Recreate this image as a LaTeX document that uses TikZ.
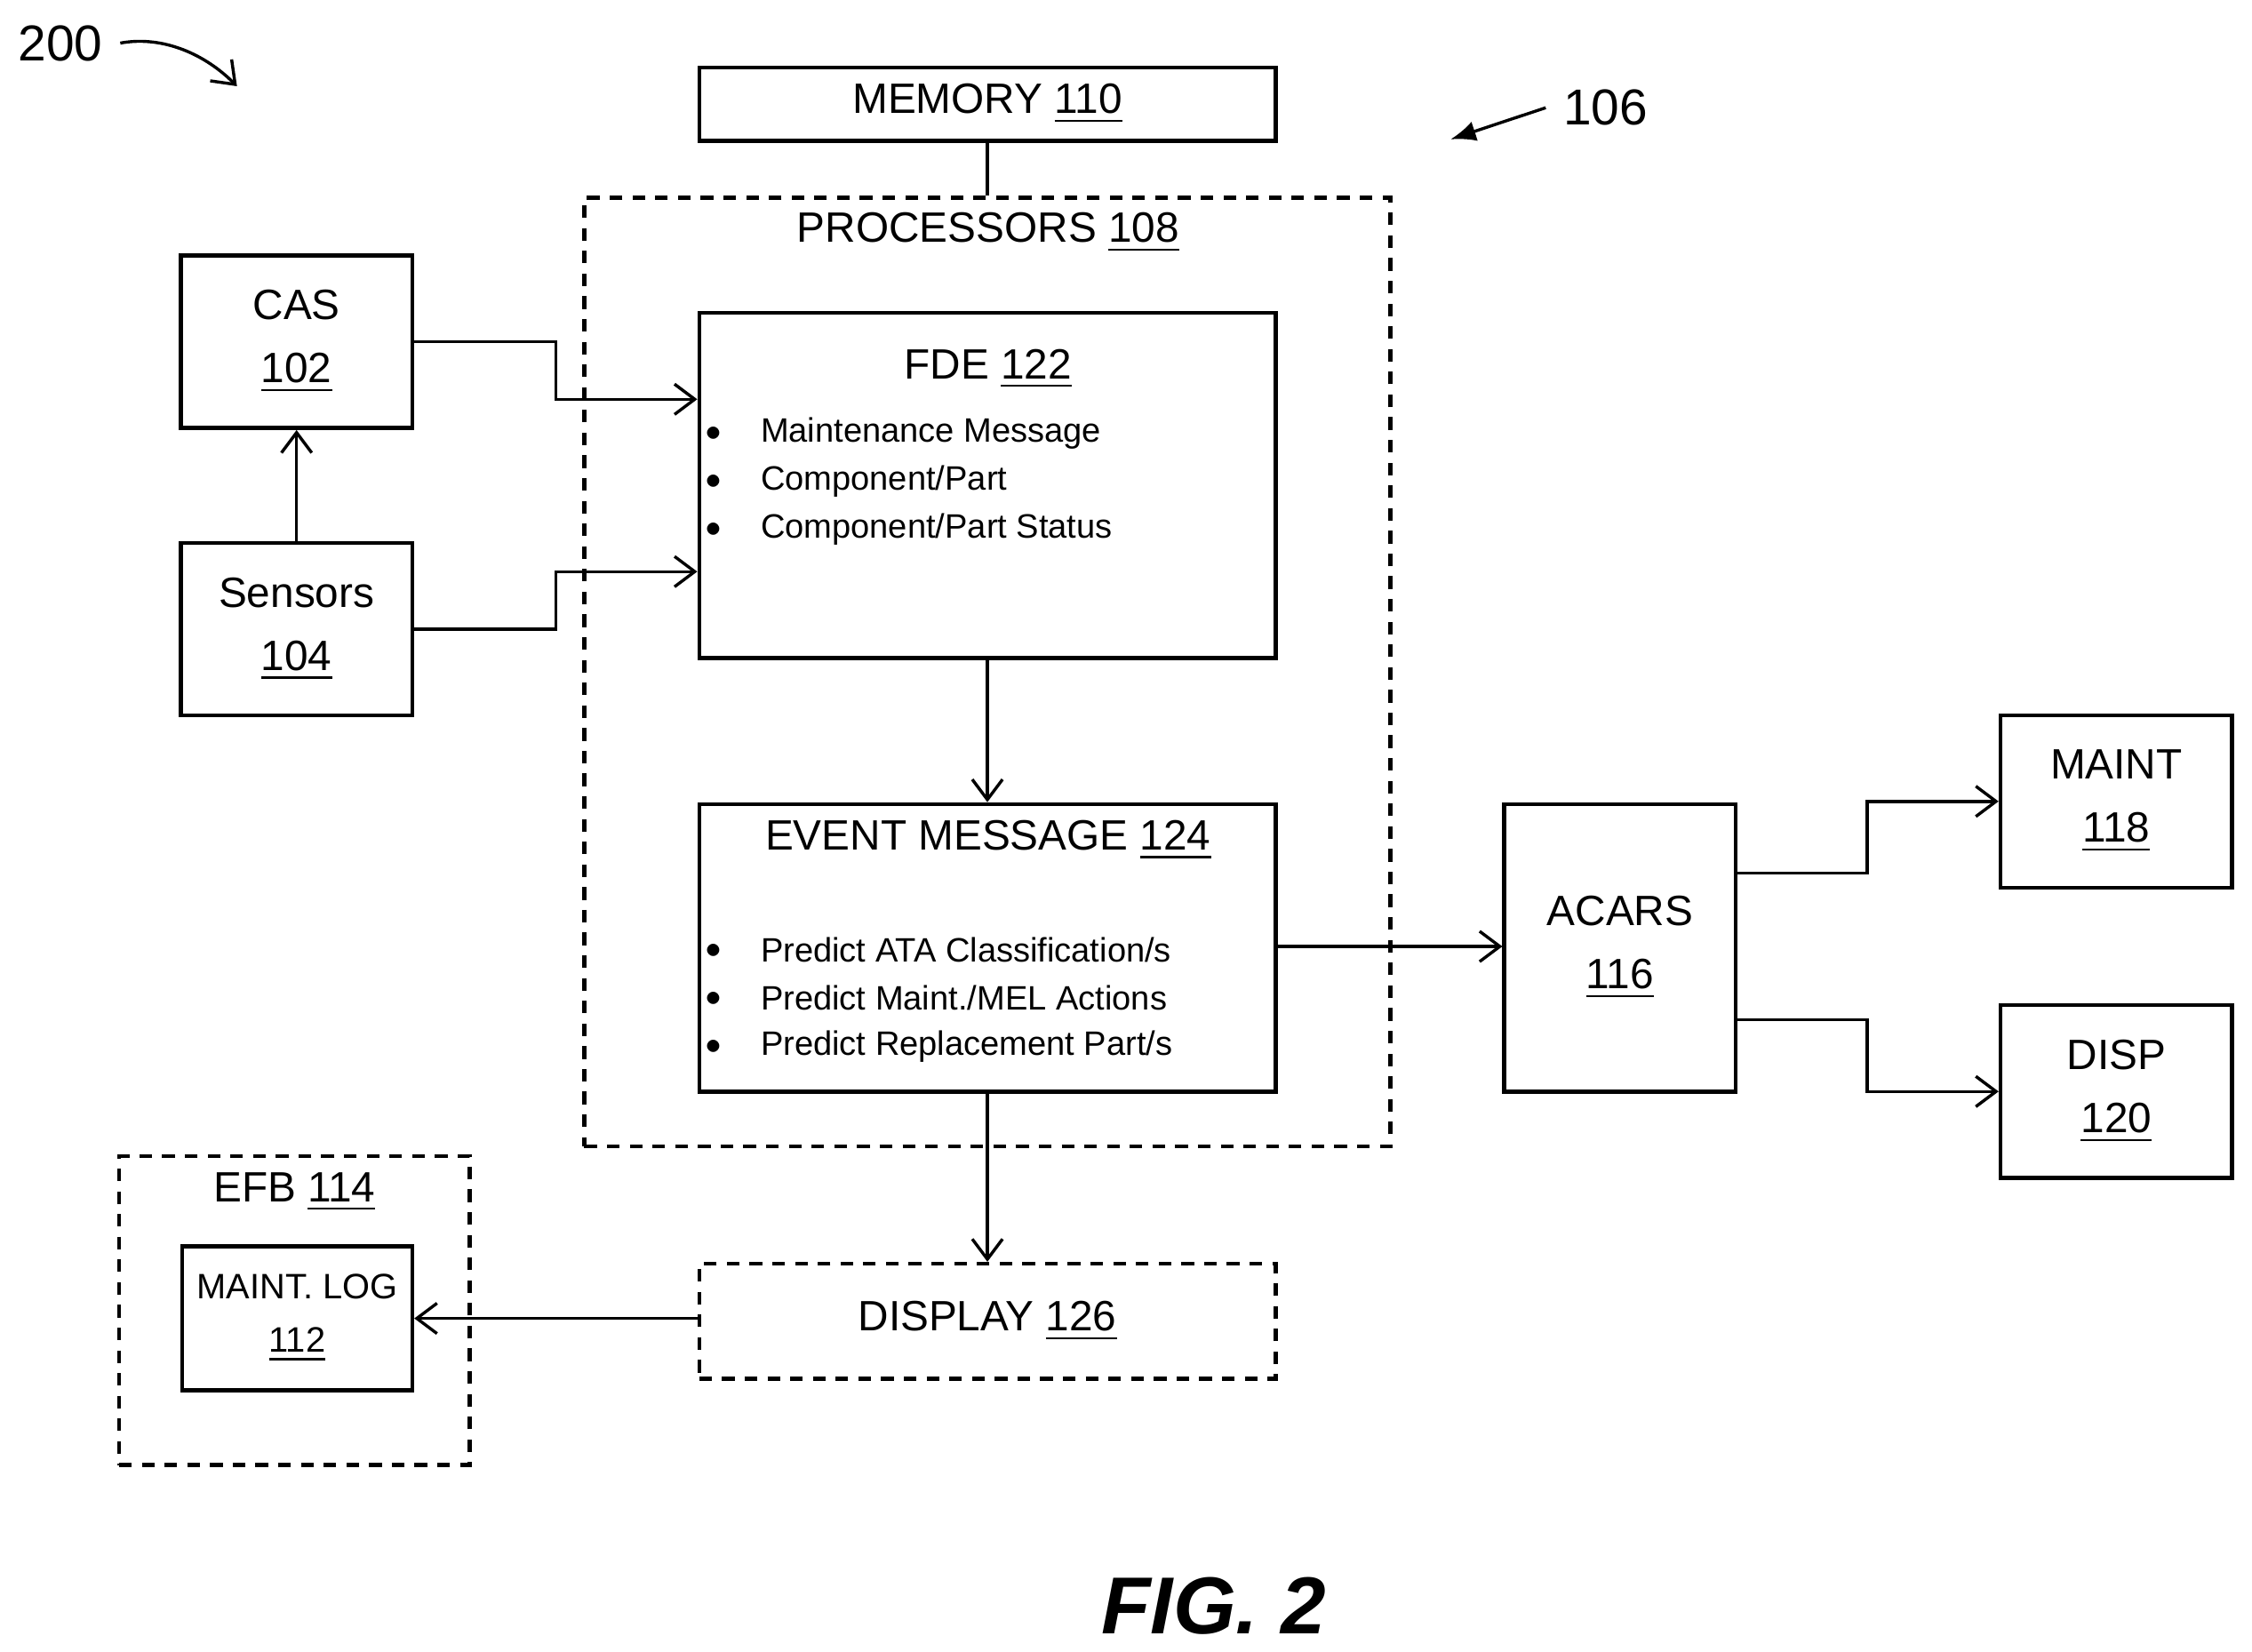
\documentclass[tikz,border=0pt]{standalone}
\usepackage{fontspec}
\setmainfont{Liberation Sans}
\usetikzlibrary{arrows.meta}
\tikzset{
  box/.style={draw, line width=0.8pt, inner sep=0pt, font=\fontsize{8.4}{12.5}\selectfont, align=center},
  dbox/.style={box, dash pattern=on 2.5pt off 2pt},
  txt/.style={font=\fontsize{8.4}{11}\selectfont, align=center},
  item/.style={font=\fontsize{6.7}{9}\selectfont, anchor=west, inner sep=0pt},
  dot/.style={font=\fontsize{3.5}{5}\selectfont, inner sep=0pt},
  conn/.style={line width=0.6pt, -{Straight Barb[length=4pt,width=6pt]}},
}
\newcommand{\un}[1]{\underline{#1}}
\begin{document}
\begin{tikzpicture}[x=0.01cm, y=-0.01cm]
\useasboundingbox (0,0) rectangle (1568,1150);

% reference numbers
\node[txt, font=\fontsize{10}{12}\selectfont] (r200) at (42,30) {200};
\draw[conn] (r200.east) .. controls (110,25) and (140,35) .. (165,60);
\node[txt, font=\fontsize{10}{12}\selectfont] (r106) at (1118,75) {106};
\draw[line width=0.6pt, -{Latex[length=5pt,width=4pt]}] (r106.west) -- (1010,97);

% processors
\node[dbox, minimum width=5.61cm, minimum height=6.6cm] (proc) at (687.5,468) {};
\node[txt] (procl) at (688,162) {PROCESSORS \un{108}};
\node[box, minimum width=4.01cm, minimum height=0.51cm] (mem) at (687.5,72.5) {MEMORY \un{110}};
\draw[line width=0.6pt] (mem) -- (proc);

% inputs
\node[box, minimum width=1.61cm, minimum height=1.2cm] (cas) at (206.5,238) {CAS\\\un{102}};
\node[box, minimum width=1.61cm, minimum height=1.2cm] (sens) at (206.5,438) {Sensors\\\un{104}};
\draw[conn] (sens) -- (cas);

% FDE
\node[box, minimum width=4.01cm, minimum height=2.4cm] (fde) at (687.5,338) {};
\node[txt] (fdel) at (688,257) {FDE \un{122}};
\foreach \t [count=\i] in {Maintenance Message, Component/Part, Component/Part Status}{
  \node[dot] (fdeb\i) at (497,268+33.5*\i) {$\bullet$};
  \node[item] (fdei\i) at (529,268+33.5*\i) {\t};
}
\draw[conn] (cas.east) -- (387,238) -- (387,278) -- (fde.west |- 0,278);
\draw[conn] (sens.east) -- (387,438) -- (387,398) -- (fde.west |- 0,398);

% event message
\node[box, minimum width=4.01cm, minimum height=2cm] (evt) at (687.5,660) {};
\node[txt] (evtl) at (688,585) {EVENT MESSAGE \un{124}};
\foreach \t [count=\i] in {Predict ATA Classification/s, Predict Maint./MEL Actions, Predict Replacement Part/s}{
  \node[dot] (evtb\i) at (497,628+33.5*\i) {$\bullet$};
  \node[item] (evti\i) at (529,628+33.5*\i) {\t};
}
\draw[conn] (fde) -- (evt);

% ACARS and outputs
\node[box, minimum width=1.61cm, minimum height=2cm] (acars) at (1128,660) {ACARS\\\un{116}};
\node[box, minimum width=1.61cm, minimum height=1.2cm] (maint) at (1473.5,558) {MAINT\\\un{118}};
\node[box, minimum width=1.61cm, minimum height=1.2cm] (disp) at (1473.5,760) {DISP\\\un{120}};
\draw[conn] (evt.east |- 0,659) -- (acars.west |- 0,659);
\draw[conn] (acars.east |- 0,608) -- (1300,608) -- (1300,558) -- (maint.west);
\draw[conn] (acars.east |- 0,710) -- (1300,710) -- (1300,760) -- (disp.west);

% display and EFB
\node[dbox, minimum width=4.01cm, minimum height=0.8cm] (dsp) at (687.5,920) {DISPLAY \un{126}};
\draw[conn] (evt) -- (dsp);
\node[dbox, minimum width=2.44cm, minimum height=2.15cm] (efb) at (205,912.5) {};
\node[txt] (efbl) at (205,830) {EFB \un{114}};
\node[box, minimum width=1.6cm, minimum height=1cm, font=\fontsize{7}{10.5}\selectfont] (log) at (207,918) {MAINT. LOG\\\un{112}};
\draw[conn] (dsp.west |- 0,918) -- (log.east |- 0,918);

\node[font=\fontsize{16}{18}\selectfont\bfseries\itshape] (fig) at (845,1118) {FIG. 2};
\end{tikzpicture}
\end{document}
